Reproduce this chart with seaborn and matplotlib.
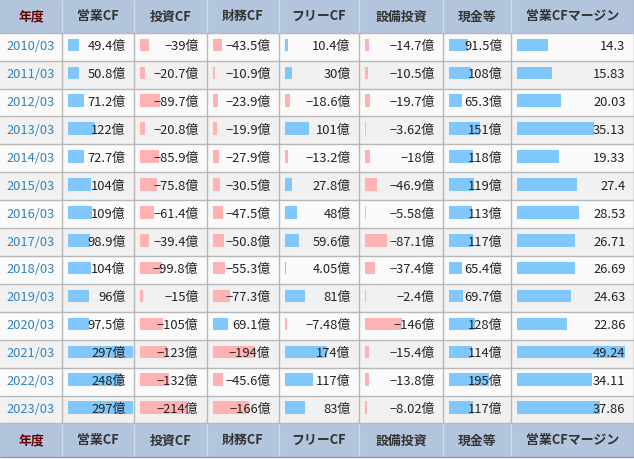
import numpy as np
import pandas as pd
import seaborn as sns
import matplotlib.pyplot as plt
import matplotlib.transforms as mtransforms
from matplotlib.patches import Rectangle

# =============================================================================
# Data
# =============================================================================

years = ["2010/03", "2011/03", "2012/03", "2013/03", "2014/03", "2015/03", "2016/03",
         "2017/03", "2018/03", "2019/03", "2020/03", "2021/03", "2022/03", "2023/03"]

headers = ["年度", "営業CF", "投資CF", "財務CF", "フリーCF", "設備投資", "現金等", "営業CFマージン"]

op_cf = [49.4, 50.8, 71.2, 122, 72.7, 104, 109, 98.9, 104, 96, 97.5, 297, 248, 297]
inv_cf = [-39, -20.7, -89.7, -20.8, -85.9, -75.8, -61.4, -39.4, -99.8, -15, -105, -123, -132, -214]
fin_cf = [-43.5, -10.9, -23.9, -19.9, -27.9, -30.5, -47.5, -50.8, -55.3, -77.3, 69.1, -194, -45.6, -166]
free_cf = [10.4, 30, -18.6, 101, -13.2, 27.8, 48, 59.6, 4.05, 81, -7.48, 174, 117, 83]
capex = [-14.7, -10.5, -19.7, -3.62, -18, -46.9, -5.58, -87.1, -37.4, -2.4, -146, -15.4, -13.8, -8.02]
cash = [91.5, 108, 65.3, 151, 118, 119, 113, 117, 65.4, 69.7, 128, 114, 195, 117]
op_margin = [14.3, 15.83, 20.03, 35.13, 19.33, 27.4, 28.53, 26.71, 26.69, 24.63, 22.86, 49.24, 34.11, 37.86]

columns = [op_cf, inv_cf, fin_cf, free_cf, capex, cash, op_margin]
is_margin = [False, False, False, False, False, False, True]

# =============================================================================
# Style / layout
# =============================================================================

sns.set_theme(style="white")
plt.rcParams["font.family"] = ["Noto Sans CJK JP", "DejaVu Sans"]

W, H = 634, 459
col_edges = [0, 62, 134, 207, 279, 359, 443, 511, 634]
head_h = 32.8
row_h = 27.9
foot_h = 34
n = len(years)
body_top = head_h
body_bot = head_h + n * row_h
foot_bot = body_bot + foot_h

blue = "#80c8fc"
pink = "#ffb2b2"
head_bg = "#b2c5dd"
grid_c = "#b8b8b8"
row_bg = ["#fafafa", "#f1f1f1"]
fs = 9.3

cf_scale = 330.0      # value that would fill a whole cell
margin_scale = 56.2
bar_pad = 6           # px between cell edge and bar start
shift = 1.8 / row_h   # bars sit a little above the row centre

fig = plt.figure(figsize=(W / 100, H / 100), dpi=100)

bg = fig.add_axes([0, 0, 1, 1])
bg.set_xlim(0, W)
bg.set_ylim(H, 0)
bg.axis("off")

# header + footer
for y0 in [0, body_bot]:
    hh = head_h if y0 == 0 else foot_h
    bg.add_patch(Rectangle((0, y0), W, hh, facecolor=head_bg, edgecolor="none"))
    for x in col_edges[1:-1]:
        bg.plot([x, x], [y0, y0 + hh], color="#d3dceb", lw=1)
    for i, h in enumerate(headers):
        cx = (col_edges[i] + col_edges[i + 1]) / 2
        bg.text(cx, y0 + hh / 2, h, ha="center", va="center", fontsize=fs,
                fontweight="bold", color="#660000" if i == 0 else "#333333")

# body rows
for i in range(n):
    y0 = body_top + i * row_h
    bg.add_patch(Rectangle((0, y0), W, row_h, facecolor=row_bg[i % 2], edgecolor="none"))
    bg.plot([0, W], [y0, y0], color=grid_c, lw=1)
    bg.text(col_edges[1] / 2, y0 + row_h / 2, years[i], ha="center", va="center",
            fontsize=fs, color="#3484bc")
bg.plot([0, W], [body_bot, body_bot], color=grid_c, lw=1)
bg.plot([0, W], [foot_bot, foot_bot], color="#9a9a9a", lw=1)
bg.plot([W - 0.5, W - 0.5], [0, foot_bot], color="#9a9a9a", lw=1)
for x in col_edges[1:-1]:
    bg.plot([x, x], [body_top, body_bot], color=grid_c, lw=1)

# =============================================================================
# Bars per column
# =============================================================================

def fmt(v, margin):
    if margin:
        return f"{v:.2f}".rstrip("0").rstrip(".")
    s = f"{abs(v):.3g}"
    return ("−" if v < 0 else "") + s + "億"

for c, (vals, margin) in enumerate(zip(columns, is_margin)):
    x0, x1 = col_edges[c + 1], col_edges[c + 2]
    cw = x1 - x0
    ax = fig.add_axes([x0 / W, 1 - body_bot / H, cw / W, (body_bot - body_top) / H])
    ax.patch.set_alpha(0)

    df = pd.DataFrame({
        "year": years,
        "size": np.abs(vals),
        "sign": ["pos" if v >= 0 else "neg" for v in vals],
    })

    sns.barplot(data=df, x="size", y="year", hue="sign", order=years,
                palette={"pos": blue, "neg": pink}, orient="h", dodge=False,
                width=0.45, saturation=1, linewidth=0, legend=False, ax=ax)

    scale = margin_scale if margin else cf_scale
    pad = bar_pad * scale / cw
    ax.set_xlim(-pad, scale - pad)
    ax.set_ylim(n - 0.5 + shift, -0.5 + shift)
    ax.axis("off")

    tr = mtransforms.blended_transform_factory(ax.transAxes, ax.transData)
    for i, v in enumerate(vals):
        ax.text(1 - 8.5 / cw, i + shift, fmt(v, margin), transform=tr,
                ha="right", va="center", fontsize=fs, color="#222222", zorder=5)

fig.savefig("out.png", dpi=100)
